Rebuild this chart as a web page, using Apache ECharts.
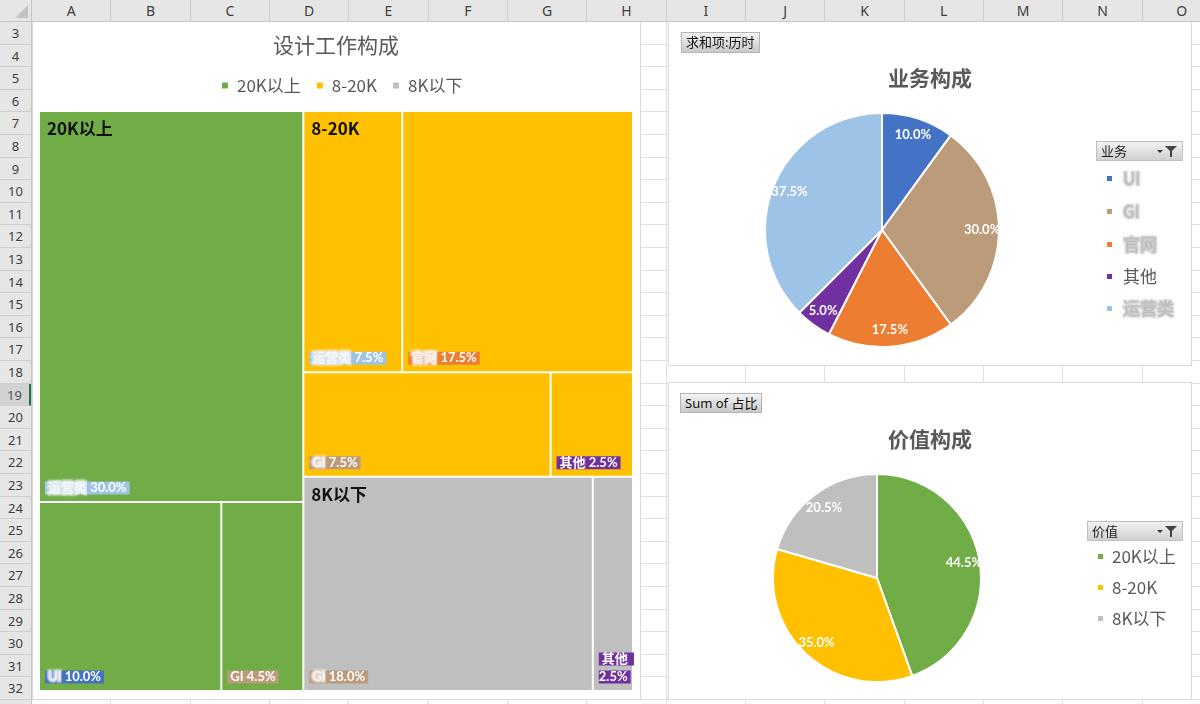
<!DOCTYPE html>
<html>
<head>
<meta charset="utf-8">
<script src="https://cdn.jsdelivr.net/npm/echarts@6/dist/echarts.min.js"></script>
<style>
html,body{margin:0;padding:0;width:1200px;height:704px;overflow:hidden;background:#fff;font-family:"Noto Sans CJK SC","Noto Sans",sans-serif;}
.abs{position:absolute;box-sizing:border-box;}
#colhdr{left:0;top:0;width:1200px;height:22px;background:#E6E6E6;border-bottom:1px solid #C6C6C6;z-index:6;}
#rowhdr{left:0;top:22px;width:32px;height:682px;background:#E6E6E6;border-right:1px solid #C6C6C6;z-index:6;}
.colcell{position:absolute;top:0;height:21px;line-height:21px;text-align:center;font-family:"Noto Sans",sans-serif;font-size:14px;color:#404040;border-right:1px solid #CFCFCF;box-sizing:border-box;}
.rowcell{position:absolute;left:0;width:31px;text-align:center;font-family:"Noto Sans",sans-serif;font-size:13px;color:#404040;border-bottom:1px solid #CFCFCF;box-sizing:border-box;}
.rowcell.sel{background:#D2D2D2;border-right:2px solid #217346;color:#555;}
.vline{position:absolute;top:22px;width:1px;height:682px;background:#E1E1E1;}
.hline{position:absolute;left:32px;height:1px;width:1168px;background:#E1E1E1;}
.panel{background:#fff;border:1px solid #D9D9D9;z-index:2;}
#chart{left:0;top:0;width:1200px;height:704px;z-index:3;}
.pbtn{z-index:4;background:linear-gradient(#F4F4F4,#C9C9C9);border:1px solid #B5B5B5;font-size:13px;color:#111;line-height:18px;padding:0 4px;white-space:nowrap;}
.fhdr{z-index:4;background:linear-gradient(#F2F2F2,#D0D0D0);border:1px solid #C0C0C0;font-size:13px;color:#222;line-height:18px;padding:0 4px;}
.fhdr .arr{position:absolute;right:19px;top:8px;width:0;height:0;border-left:3px solid transparent;border-right:3px solid transparent;border-top:3px solid #333;}
.fhdr .fun{position:absolute;right:5px;top:4px;width:0;height:0;border-left:6px solid transparent;border-right:6px solid transparent;border-top:6px solid #444;}
.fhdr .stem{position:absolute;right:10px;top:9px;width:2px;height:6px;background:#444;}
#corner{left:0;top:0;width:32px;height:22px;background:#E6E6E6;z-index:7;border-right:1px solid #C6C6C6;border-bottom:1px solid #C6C6C6;}
#corner .tri{position:absolute;right:3px;bottom:3px;width:0;height:0;border-left:13px solid transparent;border-bottom:13px solid #C3C3C3;}
</style>
</head>
<body>
<div id="corner" class="abs"><div class="tri"></div></div>
<div id="colhdr" class="abs"></div>
<div id="rowhdr" class="abs"></div>
<div id="grid"></div>
<div class="abs panel" style="left:32px;top:10px;width:609px;height:690px;"></div>
<div class="abs panel" style="left:668px;top:10px;width:524px;height:356px;"></div>
<div class="abs panel" style="left:668px;top:382px;width:524px;height:318px;"></div>
<div id="chart" class="abs"></div>
<div class="abs pbtn" style="left:681px;top:32px;height:21px;">求和项:历时</div>
<div class="abs pbtn" style="left:680px;top:393px;height:20px;font-family:'Noto Sans','Noto Sans CJK SC',sans-serif;">Sum of 占比</div>
<div class="abs fhdr" style="left:1096px;top:141px;width:87px;height:20px;">业务<div class="arr"></div><div class="fun"></div><div class="stem"></div></div>
<div class="abs fhdr" style="left:1087px;top:521px;width:96px;height:20px;">价值<div class="arr"></div><div class="fun"></div><div class="stem"></div></div>
<script>
// ---------------- data ----------------
const colLetters = ['A','B','C','D','E','F','G','H','I','J','K','L','M','N','O'];
const rowNumbers = [3,4,5,6,7,8,9,10,11,12,13,14,15,16,17,18,19,20,21,22,23,24,25,26,27,28,29,30,31,32];

const treemapTitle = '设计工作构成';
const bizTitle = '业务构成';
const valueTitle = '价值构成';

// salary groups (价值) and their share
const groupNames  = ['20K以上', '8-20K', '8K以下'];
const groupShares = [44.5, 35.0, 20.5];

// business types (业务) and their share
const bizNames  = ['UI', 'GI', '官网', '其他', '运营类'];
const bizShares = [10.0, 30.0, 17.5, 5.0, 37.5];

// treemap leaves: group, business, share
const leafGroup = ['20K以上','20K以上','20K以上','8-20K','8-20K','8-20K','8-20K','8K以下','8K以下'];
const leafBiz   = ['运营类','UI','GI','运营类','官网','GI','其他','GI','其他'];
const leafShare = [30.0, 10.0, 4.5, 7.5, 17.5, 7.5, 2.5, 18.0, 2.5];

// ---------------- styles ----------------
const groupColors = {'20K以上':'#70AD47','8-20K':'#FFC000','8K以下':'#BFBFBF'};
const bizColors = {'UI':'#4472C4','GI':'#BC9B7A','官网':'#ED7D31','其他':'#7030A0','运营类':'#9DC3E6'};
const leafMasked = [true, true, false, true, true, true, false, true, false];
const legendMasked = {'UI':true,'GI':true,'官网':true,'其他':false,'运营类':true};

// ---------------- spreadsheet frame ----------------
const colW = 79.33, col0 = 32, rowH = 22.6, row0 = 22;
const colhdr = document.getElementById('colhdr');
colLetters.forEach((c, i) => {
  const d = document.createElement('div');
  d.className = 'colcell';
  d.style.left = (col0 + i * colW) + 'px';
  d.style.width = colW + 'px';
  d.textContent = c;
  colhdr.appendChild(d);
});
const rowhdr = document.getElementById('rowhdr');
const grid = document.getElementById('grid');
rowNumbers.forEach((r, i) => {
  const d = document.createElement('div');
  d.className = 'rowcell' + (r === 19 ? ' sel' : '');
  d.style.top = (i * rowH) + 'px';
  d.style.height = rowH + 'px';
  d.style.lineHeight = rowH + 'px';
  d.textContent = r;
  rowhdr.appendChild(d);
  const h = document.createElement('div');
  h.className = 'hline';
  h.style.top = (row0 + (i + 1) * rowH - 1) + 'px';
  grid.appendChild(h);
});
for (let i = 1; i <= colLetters.length; i++) {
  const v = document.createElement('div');
  v.className = 'vline';
  v.style.left = (col0 + i * colW - 1) + 'px';
  grid.appendChild(v);
}

// ---------------- chart ----------------
const FONT = '"Noto Sans CJK SC", sans-serif';
const NUMFONT = 'Lato, "Noto Sans CJK SC", sans-serif';
const LH = 18;
const TAGSIZE = 13;

const rich = {};
bizNames.forEach((n, i) => {
  const base = {backgroundColor: bizColors[n], fontWeight: 'bold', fontSize: TAGSIZE, lineHeight: LH, fontFamily: NUMFONT};
  rich['m' + i] = Object.assign({}, base, {color: 'rgba(255,255,255,0.6)', textBorderColor: 'rgba(230,230,230,0.5)', textBorderWidth: 3,
    textShadowColor: 'rgba(255,255,255,0.9)', textShadowBlur: 3, padding: [0, 0, 0, 3]});
  rich['p' + i] = Object.assign({}, base, {color: '#fff', padding: [0, 0, 0, 3]});
  rich['v' + i] = Object.assign({}, base, {color: '#fff', padding: [0, 3, 0, 0]});
});
rich.h = {fontSize: 17, fontWeight: 'bold', color: '#111', fontFamily: FONT, lineHeight: 20};

const measureCtx = document.createElement('canvas').getContext('2d');
function textW(s) { measureCtx.font = 'bold ' + TAGSIZE + 'px ' + NUMFONT; return measureCtx.measureText(s).width; }

// layouts: leaf index -> {width,height} once the library has laid the treemap out
let leafLayouts = null;

function buildTree(withLabels) {
  return groupNames.map(g => {
    const children = [];
    let first = true;
    leafGroup.forEach((lg, i) => {
      if (lg !== g) return;
      const bi = bizNames.indexOf(leafBiz[i]);
      const label = {};
      if (withLabels) {
        const tag = leafMasked[i] ? 'm' + bi : 'p' + bi;
        const valTxt = ' ' + leafShare[i].toFixed(1) + '%';
        label.formatter = '{' + tag + '|' + leafBiz[i] + '}{v' + bi + '|' + valTxt + '}';
        if (leafLayouts && leafLayouts[i]) {
          const lay = leafLayouts[i];
          const avail = lay.width - 5;
          const lines = (textW(leafBiz[i] + valTxt) + 6 > avail) ? 2 : 1;
          label.padding = [Math.max(lay.height - lines * LH - 4, 0), 0, 0, 5];
        }
      } else {
        label.formatter = first ? '{h|' + g + '}' : '';
      }
      first = false;
      children.push({
        name: leafBiz[i],
        value: leafShare[i],
        leafIdx: i,
        itemStyle: {color: withLabels ? groupColors[g] : 'rgba(0,0,0,0)'},
        label: label
      });
    });
    return {name: g, children: children};
  });
}

function treemapSeries(withLabels) {
  const bc = withLabels ? '#fff' : 'rgba(0,0,0,0)';
  return {
    type: 'treemap',
    left: 40, top: 112, width: 592, height: 578,
    roam: false, nodeClick: false, silent: true,
    breadcrumb: {show: false},
    sort: false,
    squareRatio: 0.85,
    visibleMin: 0,
    animation: false,
    levels: [
      {itemStyle: {borderWidth: 0, gapWidth: 2, borderColor: bc}},
      {itemStyle: {borderWidth: 0, gapWidth: 2, borderColor: bc}},
      {itemStyle: {borderWidth: 0, borderColor: bc}}
    ],
    upperLabel: {show: false},
    label: withLabels ? {
      show: true, position: 'insideTopLeft', distance: 0, padding: 0,
      overflow: 'break', color: '#fff', fontWeight: 'bold', fontSize: TAGSIZE, fontFamily: NUMFONT, rich: rich
    } : {
      show: true, position: 'insideTopLeft', distance: 7, padding: 0, overflow: 'none', rich: rich
    },
    emphasis: {disabled: true},
    data: buildTree(withLabels)
  };
}

const pieLabel = {
  show: true, position: 'inside', color: '#fff', fontWeight: 'bold', fontSize: 13, fontFamily: NUMFONT,
  formatter: p => p.value.toFixed(1) + '%'
};

function pieSeries(center, r, innerFrac, names, values, colors) {
  const data = names.map((n, i) => ({name: n, value: values[i], itemStyle: {color: colors[n]}}));
  return [
    {type: 'pie', center: center, radius: r, startAngle: 90, clockwise: true, silent: true,
     animation: false, label: {show: false}, labelLine: {show: false},
     itemStyle: {borderColor: '#fff', borderWidth: 2}, emphasis: {disabled: true}, data: data},
    {type: 'pie', center: center, radius: [r * innerFrac, r], startAngle: 90, clockwise: true, silent: true,
     animation: false, label: pieLabel, labelLine: {show: false},
     itemStyle: {color: 'rgba(0,0,0,0)', borderWidth: 0}, emphasis: {disabled: true},
     data: names.map((n, i) => ({name: n, value: values[i], itemStyle: {color: 'rgba(0,0,0,0)'}}))}
  ];
}

const legendRich = {m: {color: 'rgba(185,185,185,0.75)', textBorderColor: 'rgba(205,205,205,0.55)', textBorderWidth: 2,
  textShadowColor: 'rgba(175,175,175,0.8)', textShadowBlur: 3, fontSize: 17, fontFamily: FONT}};

function buildOption() {
  return {
    animation: false,
    backgroundColor: 'transparent',
    title: [
      {text: treemapTitle, left: 336, top: 35, textAlign: 'center', padding: 0,
       textStyle: {fontSize: 21, fontWeight: 'normal', color: '#595959', fontFamily: FONT}},
      {text: bizTitle, left: 930, top: 68, textAlign: 'center', padding: 0,
       textStyle: {fontSize: 21, fontWeight: 'bold', color: '#595959', fontFamily: FONT}},
      {text: valueTitle, left: 930, top: 429, textAlign: 'center', padding: 0,
       textStyle: {fontSize: 21, fontWeight: 'bold', color: '#595959', fontFamily: FONT}}
    ],
    legend: [
      {data: groupNames, left: 220, top: 77, padding: 0, icon: 'rect', itemWidth: 8, itemHeight: 8, itemGap: 14,
       selectedMode: false, textStyle: {fontSize: 17, color: '#595959', fontFamily: FONT, padding: [0, 0, 0, 3]}},
      {data: bizNames, orient: 'vertical', left: 1105, top: 169, padding: 0, icon: 'rect', itemWidth: 7, itemHeight: 7, itemGap: 14,
       selectedMode: false,
       formatter: n => legendMasked[n] ? '{m|' + n + '}' : n,
       textStyle: {fontSize: 17, color: '#595959', fontFamily: FONT, padding: [0, 0, 0, 5], rich: legendRich}},
      {data: groupNames, orient: 'vertical', left: 1096, top: 548, padding: 0, icon: 'rect', itemWidth: 7, itemHeight: 7, itemGap: 14,
       selectedMode: false, textStyle: {fontSize: 17, color: '#595959', fontFamily: FONT, padding: [0, 0, 0, 3]}}
    ],
    series: [
      treemapSeries(true),
      treemapSeries(false),
      ...pieSeries([882, 230], 117, 0.66, bizNames, bizShares, bizColors),
      ...pieSeries([877, 578], 104, 0.64, groupNames, groupShares, groupColors)
    ]
  };
}

const chart = echarts.init(document.getElementById('chart'), null, {renderer: 'canvas'});
chart.setOption(buildOption());

// second pass: read the treemap cells the library laid out, so each tag sits at the cell's lower-left corner
try {
  const sm = chart.getModel().getSeriesByIndex(0);
  const tree = sm.getData().tree;
  const found = {};
  tree.root.eachNode(node => {
    if (node.children && node.children.length) return;
    const li = node.getModel().get('leafIdx');
    if (li == null) return;
    const lay = node.getLayout();
    if (lay) found[li] = {width: lay.width, height: lay.height};
  });
  leafLayouts = found;
  chart.setOption({series: [treemapSeries(true)]});
} catch (e) { console.log(e); }
</script>
</body>
</html>
